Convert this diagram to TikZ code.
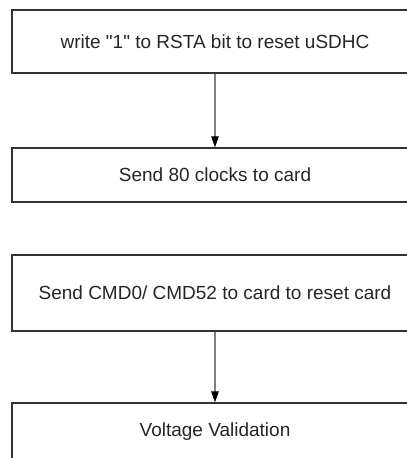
\documentclass[tikz,border=0pt]{standalone}
\usepackage{fontspec}
\setmainfont{Liberation Sans}[Ligatures=TeXOff]
\usetikzlibrary{arrows.meta}
\definecolor{flowline}{RGB}{51,51,51}
\definecolor{flowarrow}{RGB}{128,128,128}
\tikzset{
  flow box/.style={draw=flowline,line width=1.3pt,fill=white,minimum width=406pt,
    inner sep=0pt,text=black!85,font=\fontsize{19}{23}\selectfont},
  flow arrow/.style={-{Triangle[length=11pt,width=7.5pt,black]},line width=1.1pt,draw=flowarrow}
}

\begin{document}
\begin{tikzpicture}[x=1pt,y=1pt]
    \useasboundingbox (0,0) rectangle (407,458);
    \clip (0,0) rectangle (407,458);
    \fill[white] (0,0) rectangle (407,458);
    \node[flow box,minimum height=63pt] (reset) at (215,416.5) {write "1" to RSTA bit to reset uSDHC\hspace{20pt}};
    \node[flow box,minimum height=54pt] (clocks) at (215,283) {Send 80 clocks to card};
    \node[flow box,minimum height=76pt] (cmd) at (215,165) {Send CMD0/ CMD52 to card to reset card};
    \node[flow box,minimum height=58pt] (voltage) at (215,26) {Voltage Validation};
    \draw[flow arrow] (reset) -- (clocks);
    \draw[flow arrow] (cmd) -- (voltage);
  \end{tikzpicture}
\end{document}
